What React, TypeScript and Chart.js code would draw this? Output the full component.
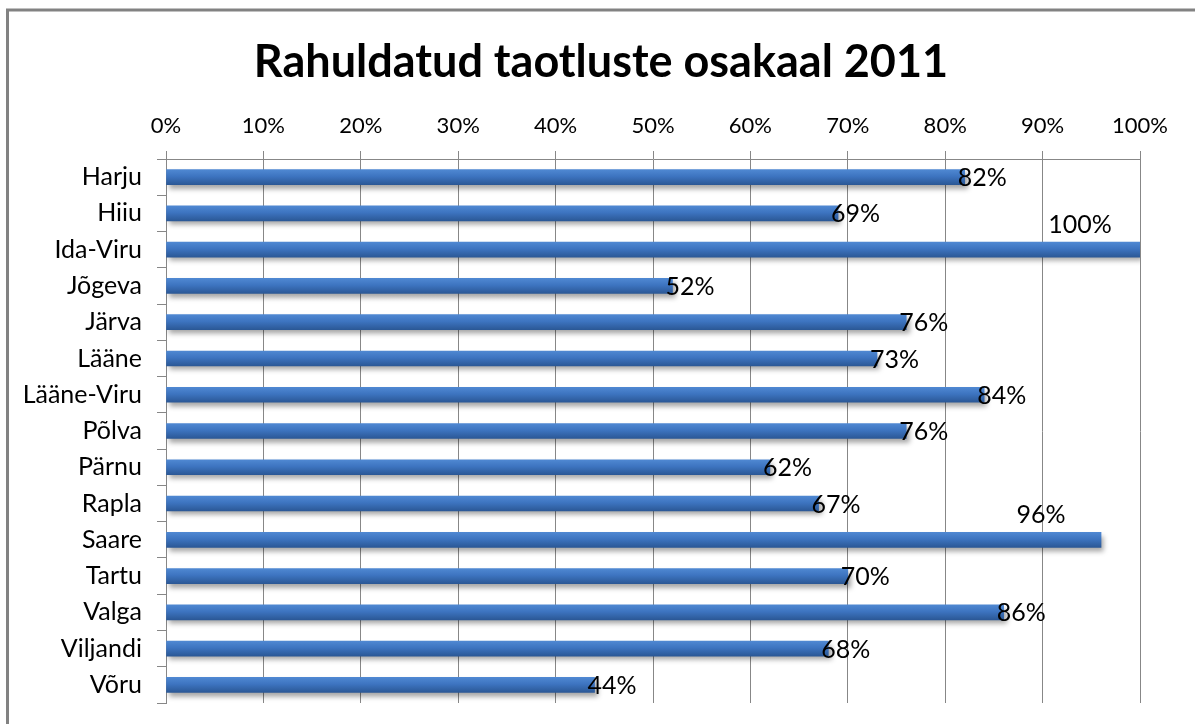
import React, { useEffect, useRef } from "react";
import { Chart, registerables } from "chart.js";

Chart.register(...registerables);

const TITLE = "Rahuldatud taotluste osakaal 2011";
const categories = [
  "Harju", "Hiiu", "Ida-Viru", "Jõgeva", "Järva", "Lääne", "Lääne-Viru", "Põlva",
  "Pärnu", "Rapla", "Saare", "Tartu", "Valga", "Viljandi", "Võru",
];
const values = [82, 69, 100, 52, 76, 73, 84, 76, 62, 67, 96, 70, 86, 68, 44];
const xTicks = [0, 10, 20, 30, 40, 50, 60, 70, 80, 90, 100];

const FONT = "Lato, 'Open Sans', sans-serif";
const GRID = "#878787";

const framePlugin = {
  id: "frame",
  beforeDraw(chart: any) {
    const ctx = chart.ctx;
    ctx.save();
    ctx.fillStyle = "#ffffff";
    ctx.fillRect(0, 0, chart.width, chart.height);
    ctx.strokeStyle = "#828282";
    ctx.lineWidth = 3;
    ctx.beginPath();
    ctx.moveTo(7.5, chart.height + 5);
    ctx.lineTo(7.5, 10);
    ctx.lineTo(chart.width + 5, 10);
    ctx.stroke();
    ctx.fillStyle = "#000";
    ctx.font = `bold 45px ${FONT}`;
    ctx.textAlign = "center";
    ctx.textBaseline = "middle";
    ctx.fillText(TITLE, 601, 62);
    ctx.restore();
  },
};

const shadowPlugin = {
  id: "barShadow",
  beforeDatasetsDraw(chart: any) {
    const ctx = chart.ctx;
    ctx.save();
    ctx.shadowColor = "rgba(0,0,0,0.35)";
    ctx.shadowOffsetX = 3;
    ctx.shadowOffsetY = 4;
    ctx.shadowBlur = 5;
  },
  afterDatasetsDraw(chart: any) {
    chart.ctx.restore();
  },
};

const labelPlugin = {
  id: "valueLabels",
  afterDatasetsDraw(chart: any) {
    const ctx = chart.ctx;
    const meta = chart.getDatasetMeta(0);
    ctx.save();
    ctx.fillStyle = "#000";
    ctx.font = `25px ${FONT}`;
    ctx.textBaseline = "middle";
    meta.data.forEach((bar: any, i: number) => {
      const v = values[i];
      const text = v + "%";
      if (v >= 90) {
        ctx.textAlign = "center";
        ctx.fillText(text, bar.x - 60, bar.y - 25);
      } else {
        ctx.textAlign = "left";
        ctx.fillText(text, bar.x - 7, bar.y + 1);
      }
    });
    ctx.restore();
  },
};

export default function App() {
  const ref = useRef<HTMLCanvasElement | null>(null);
  useEffect(() => {
    if (!ref.current) return;
    const chart = new Chart(ref.current, {
      type: "bar",
      data: {
        labels: categories,
        datasets: [
          {
            data: values,
            barThickness: 15,
            backgroundColor: (c: any) => {
              const ch = c.chart;
              const y = ch.scales && ch.scales.y;
              if (!y || c.dataIndex === undefined) return "#3c70b8";
              const cy = y.getPixelForValue(c.dataIndex);
              if (!isFinite(cy)) return "#3c70b8";
              const g = ch.ctx.createLinearGradient(0, cy - 7.5, 0, cy + 7.5);
              g.addColorStop(0, "#4f88d2");
              g.addColorStop(0.45, "#3d74c0");
              g.addColorStop(1, "#2b5896");
              return g;
            },
            borderWidth: 0,
          },
        ],
      },
      options: {
        indexAxis: "y",
        animation: false,
        responsive: true,
        maintainAspectRatio: false,
        layout: { padding: { top: 100, left: 0, right: 55, bottom: 21 } },
        plugins: { legend: { display: false }, tooltip: { enabled: false }, title: { display: false } },
        scales: {
          x: {
            position: "top",
            min: 0,
            max: 100,
            afterBuildTicks: (s: any) => {
              s.ticks = xTicks.map((v) => ({ value: v }));
            },
            afterFit: (s: any) => {
              s.height = 59;
            },
            ticks: {
              callback: (v: any) => v + "%",
              font: { family: FONT, size: 22 },
              color: "#000",
              padding: 12,
            },
            grid: { color: GRID, lineWidth: 1, tickLength: 8, drawTicks: true },
            border: { display: true, color: GRID, width: 1 },
          },
          y: {
            afterFit: (s: any) => {
              s.width = 166;
              s.paddingTop = 0;
              s.paddingBottom = 0;
            },
            ticks: {
              font: { family: FONT, size: 25 },
              color: "#000",
              padding: 15,
              autoSkip: false,
            },
            grid: { offset: true, drawOnChartArea: false, color: GRID, tickLength: 9 },
            border: { display: true, color: GRID, width: 1 },
          },
        },
      },
      plugins: [framePlugin, shadowPlugin, labelPlugin],
    } as any);
    return () => chart.destroy();
  }, []);
  return (
    <div style={{ position: "absolute", left: 0, top: 0, width: 1195, height: 724 }}>
      <canvas ref={ref} />
    </div>
  );
}
